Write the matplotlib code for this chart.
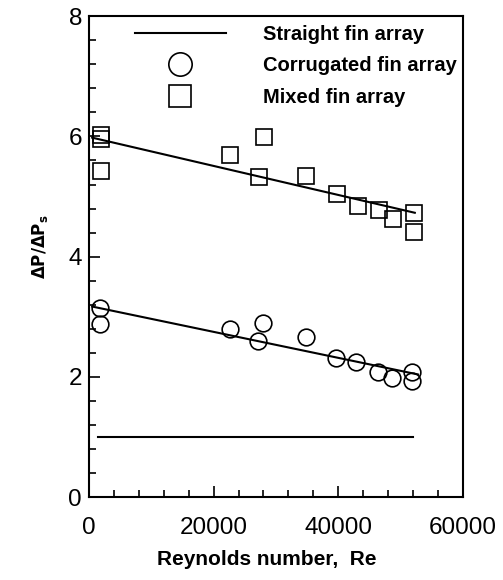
import numpy as np
import matplotlib
matplotlib.use("Agg")
import matplotlib.pyplot as plt
from matplotlib.ticker import MultipleLocator

# valeurs
re_corr = [1800, 1800, 22600, 27900, 27200, 34800, 39600, 42900, 46400, 48700, 51900, 51900]
dp_corr = [3.14, 2.88, 2.79, 2.90, 2.60, 2.67, 2.32, 2.24, 2.08, 1.98, 2.08, 1.93]

re_mixed = [1900, 1900, 1900, 22600, 28100, 27300, 34800, 39800, 43200, 46600, 48800, 52200, 52200]
dp_mixed = [6.02, 5.95, 5.43, 5.69, 5.99, 5.33, 5.34, 5.05, 4.85, 4.77, 4.62, 4.72, 4.41]

re_fit_corr = [500, 52800]
dp_fit_corr = [3.17, 2.04]
re_fit_mixed = [500, 52300]
dp_fit_mixed = [5.98, 4.73]

re_straight = [1500, 52000]
dp_straight = [1.0, 1.0]

plt.rcParams['font.family'] = ['Liberation Sans', 'DejaVu Sans']

fig = plt.figure(figsize=(5.03, 5.80), dpi=100)
ax = fig.add_axes([0.177, 0.143, 0.743, 0.829])

ax.plot(re_straight, dp_straight, color='black', linewidth=1.5, label='Straight fin array')
ax.plot(re_corr, dp_corr, linestyle='none', marker='o', markersize=12, markerfacecolor='none',
        markeredgecolor='black', markeredgewidth=1.2, label='Corrugated fin array')
ax.plot(re_mixed, dp_mixed, linestyle='none', marker='s', markersize=11, markerfacecolor='none',
        markeredgecolor='black', markeredgewidth=1.2, label='Mixed fin array')
ax.plot(re_fit_corr, dp_fit_corr, color='black', linewidth=1.5)
ax.plot(re_fit_mixed, dp_fit_mixed, color='black', linewidth=1.5)

ax.set_xlim(0, 60000)
ax.set_ylim(0, 8)
ax.xaxis.set_major_locator(MultipleLocator(20000))
ax.xaxis.set_minor_locator(MultipleLocator(4000))
ax.yaxis.set_major_locator(MultipleLocator(2))
ax.yaxis.set_minor_locator(MultipleLocator(0.4))
ax.tick_params(which='both', direction='in', width=1.2, labelsize=17.5)
ax.tick_params(axis='x', which='both', pad=14)
ax.tick_params(axis='y', which='both', pad=5)
ax.tick_params(which='major', length=8)
ax.tick_params(which='minor', length=5)
for s in ax.spines.values():
    s.set_linewidth(1.5)

ax.set_xlabel('Reynolds number,  Re', fontsize=15, fontweight='bold')
ax.xaxis.set_label_coords(0.476, -0.11)
ax.set_ylabel(r'$\mathbf{\Delta P/\Delta P_s}$', fontsize=12)
ax.yaxis.set_label_coords(-0.105, 0.52)

ax.legend(loc='upper left', bbox_to_anchor=(0.123, 0.982), frameon=False,
          prop={'weight': 'bold', 'size': 14.5},
          handlelength=4.5, handletextpad=1.85, labelspacing=0.62,
          borderpad=0, borderaxespad=0, markerscale=1.4, numpoints=1)

fig.savefig('out.png', dpi=100)
